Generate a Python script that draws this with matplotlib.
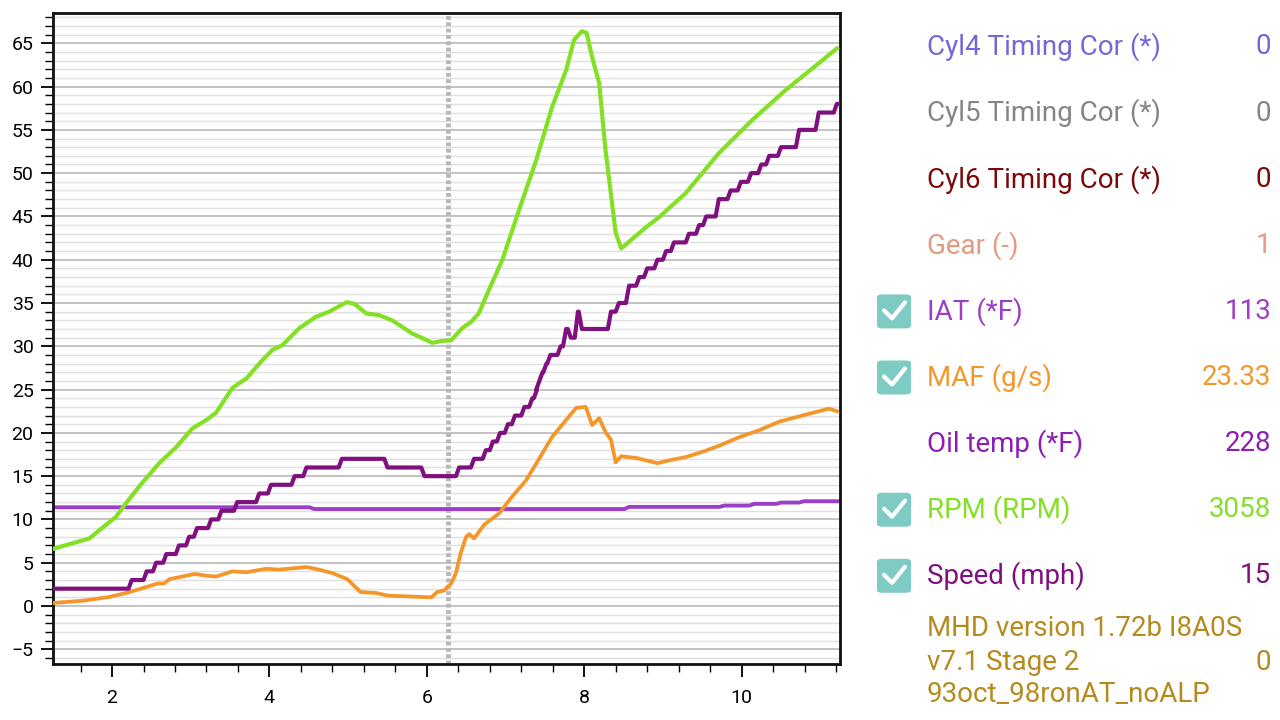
import numpy as np
import matplotlib.pyplot as plt
from matplotlib.patches import FancyBboxPatch
from matplotlib.ticker import MultipleLocator

# RPM trace (shown as RPM / 100)
rpm_t = [1.25, 1.71, 2.05, 2.18, 2.38, 2.60, 2.82, 3.02, 3.20, 3.32, 3.53, 3.71, 3.91, 4.04,
         4.16, 4.38, 4.59, 4.76, 4.98, 5.08, 5.23, 5.39, 5.56, 5.81, 6.07, 6.18, 6.31, 6.45,
         6.56, 6.66, 6.75, 6.96, 7.17, 7.39, 7.59, 7.77, 7.87, 7.97, 8.03, 8.10, 8.19, 8.27,
         8.40, 8.47, 8.79, 8.95, 9.29, 9.71, 10.13, 10.56, 11.21]
rpm_v = [6.6, 7.8, 10.3, 11.9, 14.2, 16.5, 18.4, 20.5, 21.5, 22.3, 25.2, 26.3, 28.4, 29.6,
         30.1, 32.1, 33.4, 34.0, 35.1, 34.9, 33.8, 33.6, 33.0, 31.5, 30.4, 30.6, 30.7, 32.1,
         32.8, 33.8, 35.7, 40.0, 45.7, 51.5, 57.6, 61.9, 65.4, 66.4, 66.2, 63.4, 60.4, 52.7,
         43.1, 41.3, 43.8, 44.9, 47.7, 52.3, 56.1, 59.6, 64.4]

# MAF trace (g/s)
maf_t = [1.25, 1.62, 1.97, 2.22, 2.44, 2.58, 2.66, 2.73, 2.89, 3.05, 3.20, 3.32, 3.53, 3.71,
         3.96, 4.12, 4.47, 4.63, 4.80, 4.99, 5.16, 5.36, 5.50, 5.78, 6.06, 6.13, 6.22, 6.31,
         6.37, 6.43, 6.50, 6.54, 6.60, 6.73, 6.92, 7.08, 7.26, 7.42, 7.59, 7.77, 7.90, 8.02,
         8.10, 8.19, 8.27, 8.34, 8.40, 8.47, 8.66, 8.93, 9.12, 9.29, 9.50, 9.71, 9.97, 10.22,
         10.48, 10.77, 11.11, 11.21]
maf_v = [0.35, 0.6, 1.05, 1.6, 2.2, 2.6, 2.6, 3.1, 3.4, 3.7, 3.5, 3.4, 4.0, 3.9,
         4.3, 4.2, 4.5, 4.2, 3.8, 3.1, 1.6, 1.5, 1.2, 1.1, 1.0, 1.6, 1.8, 2.6,
         3.8, 6.1, 8.0, 8.3, 7.8, 9.4, 10.7, 12.6, 14.5, 16.9, 19.5, 21.5, 22.9, 23.0,
         20.9, 21.7, 20.1, 19.2, 16.6, 17.3, 17.1, 16.5, 16.9, 17.2, 17.8, 18.5, 19.5, 20.3,
         21.3, 22.0, 22.8, 22.5]

# Speed (mph), level held from each time onward
speed_t = [1.25, 2.25, 2.44, 2.56, 2.69, 2.85, 2.98, 3.08, 3.26, 3.39, 3.59, 3.87, 4.02, 4.32,
           4.47, 4.92, 5.50, 5.97, 6.41, 6.60, 6.75, 6.84, 6.93, 7.03, 7.12, 7.24, 7.34, 7.40,
           7.43, 7.47, 7.52, 7.57, 7.70, 7.77, 7.83, 7.92, 7.97, 8.34, 8.44, 8.57, 8.70, 8.80,
           8.93, 9.04, 9.14, 9.33, 9.46, 9.55, 9.71, 9.86, 9.99, 10.12, 10.25, 10.35, 10.50,
           10.73, 10.98, 11.21]
speed_v = [2, 3, 4, 5, 6, 7, 8, 9, 10, 11, 12, 13, 14, 15,
           16, 17, 16, 15, 16, 17, 18, 19, 20, 21, 22, 23, 24, 25,
           26, 27, 28, 29, 30, 32, 31, 34, 32, 34, 35, 37, 38, 39,
           40, 41, 42, 43, 44, 45, 47, 48, 49, 50, 51, 52, 53,
           55, 57, 58]

# IAT (shown as degF / 10)
iat_t = [1.25, 4.57, 8.57, 9.78, 10.16, 10.50, 10.79, 11.25]
iat_v = [11.4, 11.2, 11.45, 11.6, 11.8, 11.95, 12.1, 12.1]

cursor_t = 6.27

# Side panel
legend_names = ['Cyl4 Timing Cor (*)', 'Cyl5 Timing Cor (*)', 'Cyl6 Timing Cor (*)', 'Gear (-)',
                'IAT (*F)', 'MAF (g/s)', 'Oil temp (*F)', 'RPM (RPM)', 'Speed (mph)']
legend_values = ['0', '0', '0', '1', '113', '23.33', '228', '3058', '15']
legend_colors = ['#7468d8', '#858585', '#7a0a0a', '#e29a80', '#9a3fc6', '#f5962a',
                 '#8e1db8', '#84e024', '#80107f']
legend_checked = [False, False, False, False, True, True, False, True, True]
mhd_lines = ['MHD version 1.72b I8A0S', 'v7.1 Stage 2', '93oct_98ronAT_noALP']
mhd_value = '0'


def ramped(ts, vs, ramp):
    # logger draws each step change as a short slanted segment
    xs, ys = [ts[0]], [vs[0]]
    for k in range(1, len(ts)):
        xs += [ts[k] - ramp, ts[k]]
        ys += [vs[k - 1], vs[k]]
    xs.append(11.25)
    ys.append(vs[-1])
    return xs, ys


W, H = 1280, 720
fig = plt.figure(figsize=(12.8, 7.2), dpi=100)
ax = fig.add_axes([53 / W, 1 - 664 / H, (840 - 53) / W, (664 - 13) / H])

ax.set_xlim(1.25, 11.25)
ax.set_ylim(-6.7, 68.5)

# horizontal grid: light every 1, darker every 5
for yv in range(-6, 69):
    if yv % 5 == 0:
        ax.axhline(yv, color='#b9b9b9', lw=1.2, zorder=0)
    else:
        ax.axhline(yv, color='#e0e0e0', lw=1.0, zorder=0)

ax.axvline(cursor_t, color='#b8b8b8', lw=3.5, ls=(0, (0.8, 0.5)), zorder=1)

ix, iy = ramped(iat_t[:-1], iat_v[:-1], 0.06)
ax.plot(ix, iy, color='#9a3fc6', lw=2.8, zorder=2, solid_joinstyle='round')
ax.plot(maf_t, maf_v, color='#f5962a', lw=2.7, zorder=3, solid_joinstyle='round')
sx, sy = ramped(speed_t, speed_v, 0.04)
ax.plot(sx, sy, color='#80107f', lw=3.0, zorder=4, solid_joinstyle='round')
ax.plot(rpm_t, rpm_v, color='#84e024', lw=3.0, zorder=5, solid_joinstyle='round')

ax.yaxis.set_major_locator(MultipleLocator(5))
ax.yaxis.set_minor_locator(MultipleLocator(1))
ax.xaxis.set_major_locator(MultipleLocator(2))
ax.xaxis.set_minor_locator(MultipleLocator(0.4))
ax.tick_params(axis='both', which='major', length=9, width=1.3, labelsize=14, colors='black')
ax.tick_params(axis='both', which='minor', length=6, width=1.0)
ax.tick_params(axis='y', pad=5)
ax.tick_params(axis='x', pad=9)
for sp in ax.spines.values():
    sp.set_linewidth(2)
    sp.set_color('#111111')
for lab in ax.get_xticklabels() + ax.get_yticklabels():
    lab.set_family('Roboto')

# side panel labels
row_h = 66.1
for i, name in enumerate(legend_names):
    ypx = 47 + i * row_h
    fy = 1 - ypx / H
    fig.text(927 / W, fy, name, color=legend_colors[i], fontsize=20, family='Roboto',
             ha='left', va='center')
    fig.text(1271 / W, fy, legend_values[i], color=legend_colors[i], fontsize=20,
             family='Roboto', ha='right', va='center')
    if legend_checked[i]:
        box = FancyBboxPatch((877 / W, (H - ypx - 17) / H), 34 / W, 34 / H,
                             boxstyle='round,pad=0,rounding_size=0.004',
                             transform=fig.transFigure, facecolor='#7ecbc3',
                             edgecolor='none')
        fig.patches.append(box)
        fig.lines.append(plt.Line2D([884 / W, 892 / W, 905 / W],
                                    [(H - ypx + 1) / H, (H - ypx - 7) / H, (H - ypx + 9) / H],
                                    transform=fig.transFigure, color='white', lw=3,
                                    solid_capstyle='round', solid_joinstyle='round'))

for j, line in enumerate(mhd_lines):
    fig.text(927 / W, 1 - (629 + j * 33) / H, line, color='#b58a1e', fontsize=20,
             family='Roboto', ha='left', va='center')
fig.text(1271 / W, 1 - 662 / H, mhd_value, color='#b58a1e', fontsize=20,
         family='Roboto', ha='right', va='center')

fig.savefig('out.png', dpi=100, facecolor='white')
